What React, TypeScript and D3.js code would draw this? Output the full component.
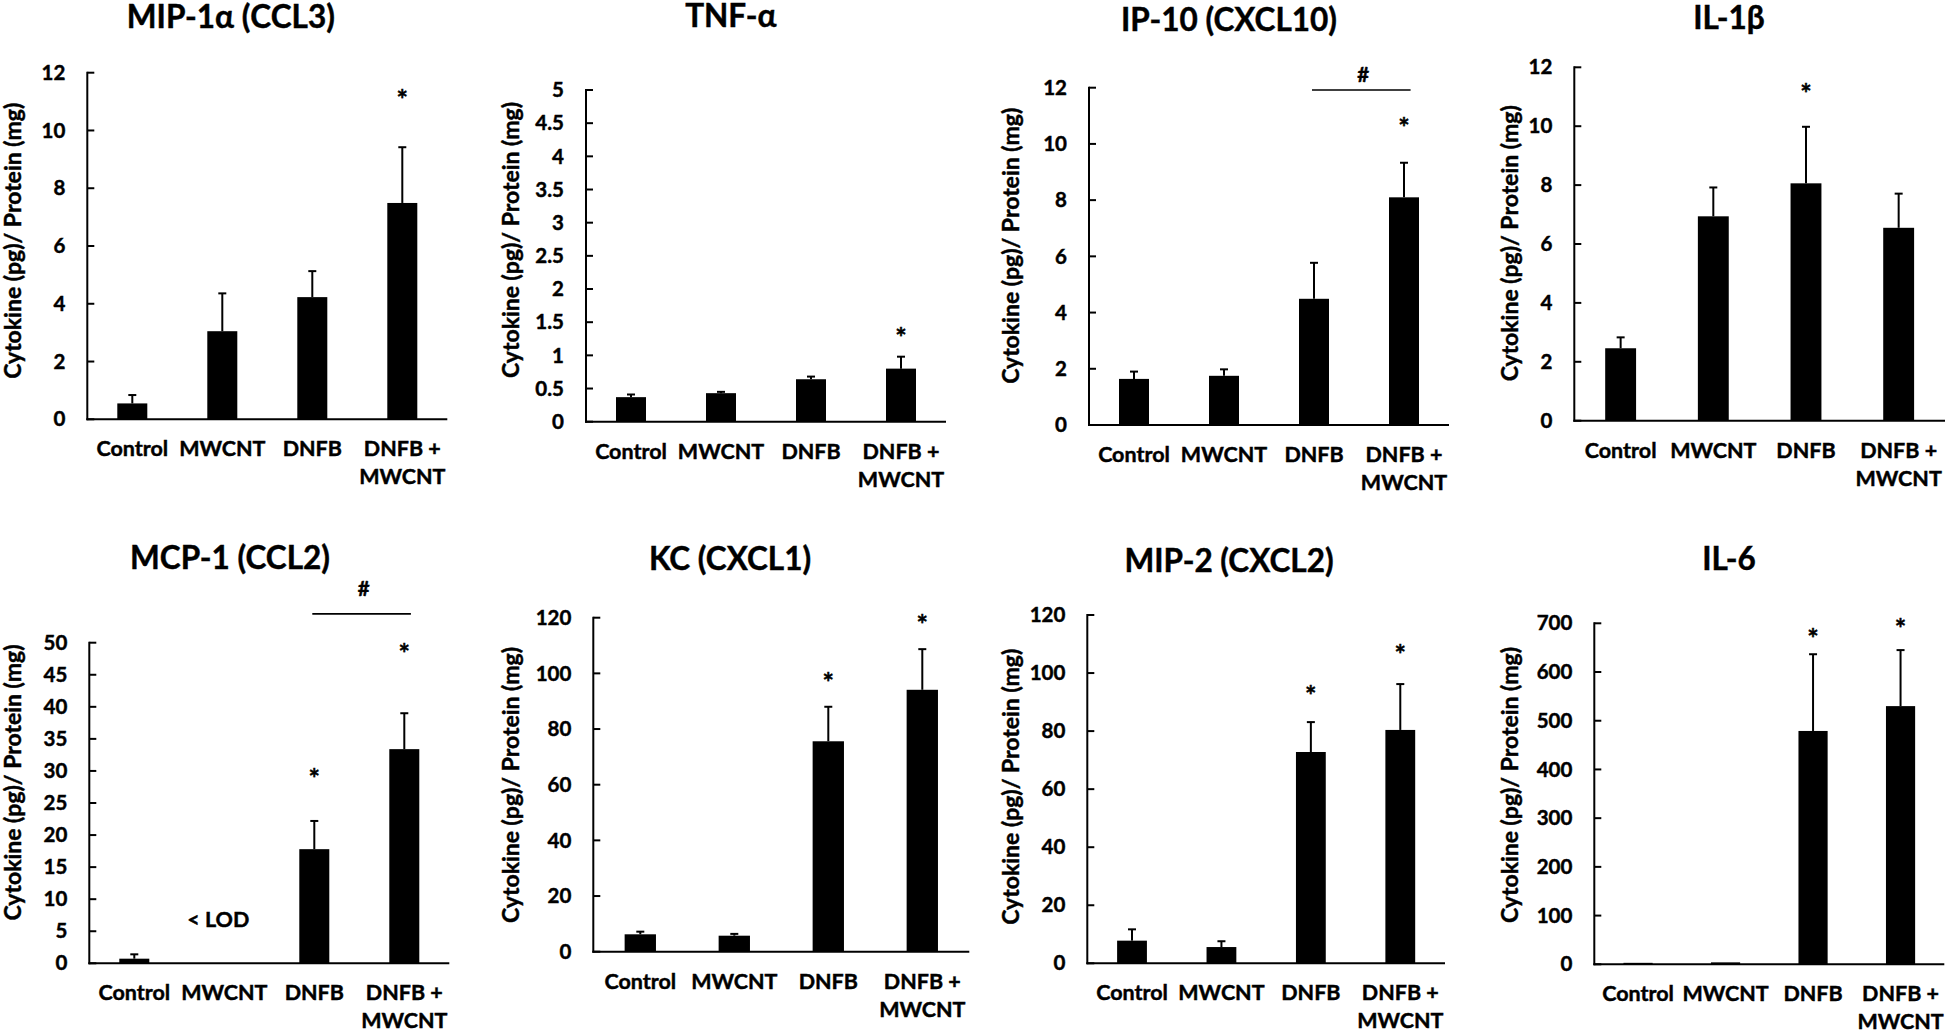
import React from "react";
import * as d3 from "d3";

// ---------- DATA ----------
const categories = ["Control", "MWCNT", "DNFB", "DNFB + MWCNT"];
const categoryLines = [["Control"], ["MWCNT"], ["DNFB"], ["DNFB +", "MWCNT"]];

const titles = [
  "MIP-1α (CCL3)",
  "TNF-α",
  "IP-10 (CXCL10)",
  "IL-1β",
  "MCP-1 (CCL2)",
  "KC (CXCL1)",
  "MIP-2 (CXCL2)",
  "IL-6",
];
const yAxisTitle = "Cytokine (pg)/ Protein (mg)";
const yMax = [12, 5, 12, 12, 50, 120, 120, 700];
const yStep = [2, 0.5, 2, 2, 5, 20, 20, 100];

// means (null = below limit of detection) and error (SEM, upper only)
const mip1aMean = [0.55, 3.05, 4.23, 7.49];
const mip1aErr = [0.29, 1.31, 0.9, 1.93];
const tnfMean = [0.37, 0.43, 0.64, 0.8];
const tnfErr = [0.04, 0.02, 0.04, 0.18];
const ip10Mean = [1.64, 1.75, 4.49, 8.1];
const ip10Err = [0.26, 0.23, 1.28, 1.23];
const il1bMean = [2.46, 6.94, 8.06, 6.55];
const il1bErr = [0.37, 0.98, 1.92, 1.16];
const mcp1Mean = [0.72, null, 17.8, 33.4];
const mcp1Err = [0.68, null, 4.4, 5.6];
const kcMean = [6.25, 5.75, 75.6, 94.1];
const kcErr = [0.95, 0.65, 12.4, 14.6];
const mip2Mean = [7.8, 5.6, 72.8, 80.4];
const mip2Err = [3.9, 2.0, 10.3, 15.8];
const il6Mean = [3, 4, 479, 530];
const il6Err = [0, 0, 157.5, 115];

// asterisk level (data units) per category; null = none
const mip1aStar = [null, null, null, 11.22];
const tnfStar = [null, null, null, 1.34];
const ip10Star = [null, null, null, 10.74];
const il1bStar = [null, null, 11.26, null];
const mcp1Star = [null, null, 29.5, 49.0];
const kcStar = [null, null, 98.2, 119.2];
const mip2Star = [null, null, 93.9, 107.9];
const il6Star = [null, null, 678, 698];

// "#" comparison brackets: [fromIndex, toIndex, lineLevel, labelLevel]
const ip10Bracket = [2, 3, 11.92, 12.46];
const mcp1Bracket = [2, 3, 54.5, 58.4];

// "< LOD" note: [categoryIndex, level]
const mcp1Lod = [1, 5.7];

const means = [mip1aMean, tnfMean, ip10Mean, il1bMean, mcp1Mean, kcMean, mip2Mean, il6Mean];
const errs = [mip1aErr, tnfErr, ip10Err, il1bErr, mcp1Err, kcErr, mip2Err, il6Err];
const stars = [mip1aStar, tnfStar, ip10Star, il1bStar, mcp1Star, kcStar, mip2Star, il6Star];
const brackets = [null, null, ip10Bracket, null, mcp1Bracket, null, null, null];
const lods = [null, null, null, null, mcp1Lod, null, null, null];

// ---------- LAYOUT (positions of each panel) ----------
const LAYOUT = [
  { x: 87.3, top: 72.7, bottom: 419.3, w: 360, tx: 230.8, ty: 28.3, yx: 20.7, yc: 240.8 },
  { x: 586, top: 90, bottom: 421.7, w: 360, tx: 730.8, ty: 26.7, yx: 519.3, yc: 240 },
  { x: 1089, top: 87.7, bottom: 425, w: 360, tx: 1229, ty: 30.7, yx: 1019.3, yc: 245.8 },
  { x: 1574.3, top: 67.3, bottom: 420.7, w: 370.7, tx: 1729, ty: 29.3, yx: 1518.3, yc: 243.3 },
  { x: 89.3, top: 642.7, bottom: 963.3, w: 360, tx: 230, ty: 569.3, yx: 20.7, yc: 782.5 },
  { x: 593.3, top: 617.7, bottom: 951.7, w: 376, tx: 730, ty: 570, yx: 519.3, yc: 785 },
  { x: 1087.3, top: 615, bottom: 963.3, w: 357.7, tx: 1229, ty: 571.7, yx: 1019.3, yc: 786.7 },
  { x: 1594.3, top: 623.3, bottom: 964.3, w: 350, tx: 1729, ty: 570, yx: 1518.3, yc: 785 },
];

const FONT = "Lato, 'Open Sans', sans-serif";
const FS_TITLE = 31.5;
const FS_YTITLE = 23;
const FS_TICK = 20.5;
const FS_CAT = 21.5;
const FS_STAR = 27;
const TXT_STROKE = 0.45;

function Panel({ i }: { i: number }) {
  const L = LAYOUT[i];
  const x = d3
    .scaleBand<number>()
    .domain(d3.range(categories.length))
    .range([L.x, L.x + L.w])
    .paddingInner(2 / 3)
    .paddingOuter(1 / 3);
  const y = d3.scaleLinear().domain([0, yMax[i]]).range([L.bottom, L.top]);
  const ticks = d3.range(0, yMax[i] + yStep[i] / 2, yStep[i]).map((v) => +v.toFixed(4));
  const bw = x.bandwidth();
  const cx = (k: number) => (x(k) as number) + bw / 2;
  const br = brackets[i];
  const lod = lods[i];
  const txt = { fontWeight: 700, stroke: "#000", strokeWidth: TXT_STROKE } as any;

  return (
    <g>
      <text x={L.tx} y={L.ty} textAnchor="middle" fontSize={FS_TITLE} {...txt}>
        {titles[i]}
      </text>
      <text
        transform={`translate(${L.yx},${L.yc}) rotate(-90)`}
        textAnchor="middle"
        fontSize={FS_YTITLE}
        {...txt}
      >
        {yAxisTitle}
      </text>
      {/* bars */}
      {means[i].map((m, k) =>
        m == null ? null : (
          <rect key={"b" + k} x={x(k)} y={y(m)} width={bw} height={L.bottom - y(m)} fill="#000" />
        )
      )}
      {/* error bars */}
      {means[i].map((m, k) => {
        const e = errs[i][k];
        if (m == null || e == null || e <= 0) return null;
        return (
          <g key={"e" + k} stroke="#000" strokeWidth={2}>
            <line x1={cx(k)} x2={cx(k)} y1={y(m)} y2={y(m + e)} />
            <line x1={cx(k) - 4} x2={cx(k) + 4} y1={y(m + e)} y2={y(m + e)} />
          </g>
        );
      })}
      {/* axes */}
      <line x1={L.x} x2={L.x} y1={L.top - 1} y2={L.bottom + 1} stroke="#000" strokeWidth={2} />
      <line x1={L.x - 1} x2={L.x + L.w} y1={L.bottom} y2={L.bottom} stroke="#000" strokeWidth={2} />
      {ticks.map((t) => (
        <g key={"t" + t}>
          <line x1={L.x} x2={L.x + 7} y1={y(t)} y2={y(t)} stroke="#000" strokeWidth={2} />
          <text x={L.x - 22} y={y(t) + FS_TICK * 0.35} textAnchor="end" fontSize={FS_TICK} {...txt}>
            {String(t)}
          </text>
        </g>
      ))}
      {/* category labels */}
      {categoryLines.map((lines, k) => (
        <text key={"c" + k} textAnchor="middle" fontSize={FS_CAT} {...txt}>
          {lines.map((s, j) => (
            <tspan key={j} x={cx(k)} y={L.bottom + 37 + j * 28}>
              {s}
            </tspan>
          ))}
        </text>
      ))}
      {/* stars */}
      {stars[i].map((s, k) =>
        s == null ? null : (
          <text key={"s" + k} x={cx(k)} y={y(s) + FS_STAR * 0.52} textAnchor="middle" fontSize={FS_STAR} {...txt}>
            *
          </text>
        )
      )}
      {br && (
        <g>
          <line
            x1={cx(br[0]) - 2}
            x2={cx(br[1]) + bw * 0.22}
            y1={y(br[2])}
            y2={y(br[2])}
            stroke="#000"
            strokeWidth={1.6}
          />
          <text
            x={(cx(br[0]) - 2 + cx(br[1]) + bw * 0.22) / 2 + 2}
            y={y(br[3]) + FS_TICK * 0.36}
            textAnchor="middle"
            fontSize={FS_TICK}
            {...txt}
          >
            #
          </text>
        </g>
      )}
      {lod && (
        <text x={cx(lod[0]) - 6} y={y(lod[1])} textAnchor="middle" fontSize={FS_CAT} {...txt}>
          {"< LOD"}
        </text>
      )}
    </g>
  );
}

export default function App() {
  return (
    <svg
      width={1945}
      height={1030}
      viewBox="0 0 1945 1030"
      style={{ position: "absolute", left: 0, top: 0, background: "#fff" }}
      fontFamily={FONT}
    >
      <rect width={1945} height={1030} fill="#fff" />
      {titles.map((_, i) => (
        <Panel key={i} i={i} />
      ))}
    </svg>
  );
}
